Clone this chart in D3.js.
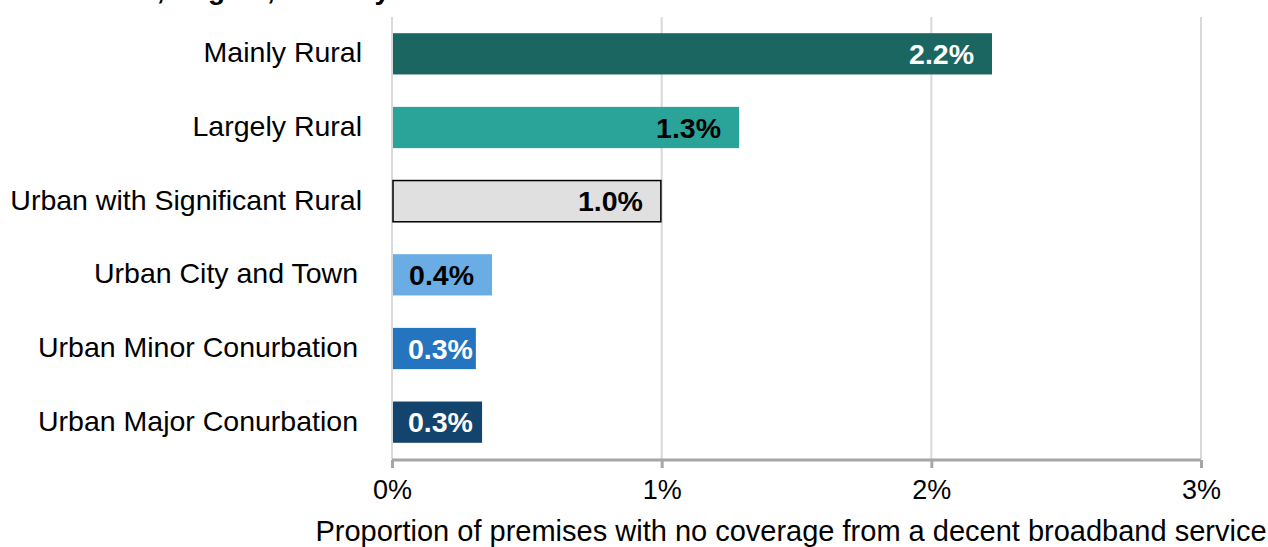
<!DOCTYPE html>
<html>
<head>
<meta charset="utf-8">
<script src="https://cdn.jsdelivr.net/npm/d3@7"></script>
<style>
  html, body { margin: 0; padding: 0; background: #ffffff; }
  svg { display: block; }
  text { font-family: "Liberation Sans", Arial, sans-serif; }
</style>
</head>
<body>
<svg id="chart" width="1268" height="547"></svg>
<script>
// Rural-urban classification categories, top to bottom
const categories = [
  "Mainly Rural",
  "Largely Rural",
  "Urban with Significant Rural",
  "Urban City and Town",
  "Urban Minor Conurbation",
  "Urban Major Conurbation"
];
// Share of premises (%) with no decent broadband coverage
const values = [2.225, 1.287, 0.997, 0.371, 0.311, 0.334];
const barColors = ["#1b6660", "#2aa498", "#e0e0e0", "#6aade4", "#2474c0", "#13446e"];
const labelColors = ["#ffffff", "#000000", "#000000", "#000000", "#ffffff", "#ffffff"];
const barStrokes = ["none", "none", "#000000", "none", "none", "none"];
const xTicks = [0, 1, 2, 3];
const xTitle = "Proportion of premises with no coverage from a decent broadband service";
const chartTitle = "Rural Urban Classification, Region, Country";

const svg = d3.select("#chart");
const plotLeft = 392, plotRight = 1201, plotTop = 17, plotBottom = 459;

const x = d3.scaleLinear().domain([0, 3]).range([plotLeft, plotRight]);
const y = d3.scaleBand().domain(categories).range([plotTop, plotBottom])
  .paddingInner(0.44).paddingOuter(0.22);

// Title (runs off the top edge)
svg.append("text")
  .attr("x", 390).attr("y", -1)
  .attr("text-anchor", "end")
  .attr("font-size", 28).attr("font-weight", "bold")
  .text(chartTitle);

// Vertical gridlines
svg.append("g").selectAll("line").data(xTicks).join("line")
  .attr("x1", d => x(d)).attr("x2", d => x(d))
  .attr("y1", plotTop).attr("y2", plotBottom)
  .attr("stroke", "#d9d9d9").attr("stroke-width", 2);

// Bars
const rows = categories.map((c, i) => ({ c, v: values[i], i }));
svg.append("g").selectAll("rect").data(rows).join("rect")
  .attr("x", x(0) + 1)
  .attr("y", d => y(d.c))
  .attr("width", d => x(d.v) - x(0) - 1)
  .attr("height", y.bandwidth())
  .attr("fill", d => barColors[d.i])
  .attr("stroke", d => barStrokes[d.i])
  .attr("stroke-width", 1.5);

// Value labels inside bar ends
const fmt = d3.format(".1f");
svg.append("g").selectAll("text").data(rows).join("text")
  .attr("y", d => y(d.c) + y.bandwidth() / 2 + 10)
  .attr("text-anchor", "end")
  .attr("font-size", 28.5).attr("font-weight", "bold")
  .attr("fill", d => labelColors[d.i])
  .text(d => fmt(d.v) + "%")
  .each(function (d) {
    const w = this.getComputedTextLength();
    d3.select(this).attr("x", Math.max(x(d.v) - 18, x(0) + 16 + w));
  });

// Category labels
svg.append("g").selectAll("text").data(categories).join("text")
  .attr("x", (d, i) => i < 3 ? 362 : 358)
  .attr("y", d => y(d) + y.bandwidth() / 2 + 8.5)
  .attr("text-anchor", "end")
  .attr("font-size", 28.5)
  .attr("fill", "#000000")
  .text(d => d);

// Bottom axis
const axis = svg.append("g")
  .attr("transform", `translate(0,${plotBottom + 1})`)
  .call(d3.axisBottom(x).tickValues(xTicks).tickFormat(d => d + "%").tickSize(8).tickPadding(12));
axis.select(".domain").attr("stroke", "#a6a6a6").attr("stroke-width", 3)
  .attr("d", `M${x(0)},0H${x(3)}`);
axis.selectAll(".tick line").attr("stroke", "#a6a6a6").attr("stroke-width", 3);
axis.selectAll(".tick text")
  .attr("font-size", 27).attr("fill", "#000000")
  .attr("font-family", "'Liberation Sans', Arial, sans-serif");

// Axis title
svg.append("text")
  .attr("x", 791).attr("y", 541)
  .attr("text-anchor", "middle")
  .attr("font-size", 29)
  .attr("fill", "#000000")
  .text(xTitle);
</script>
</body>
</html>
